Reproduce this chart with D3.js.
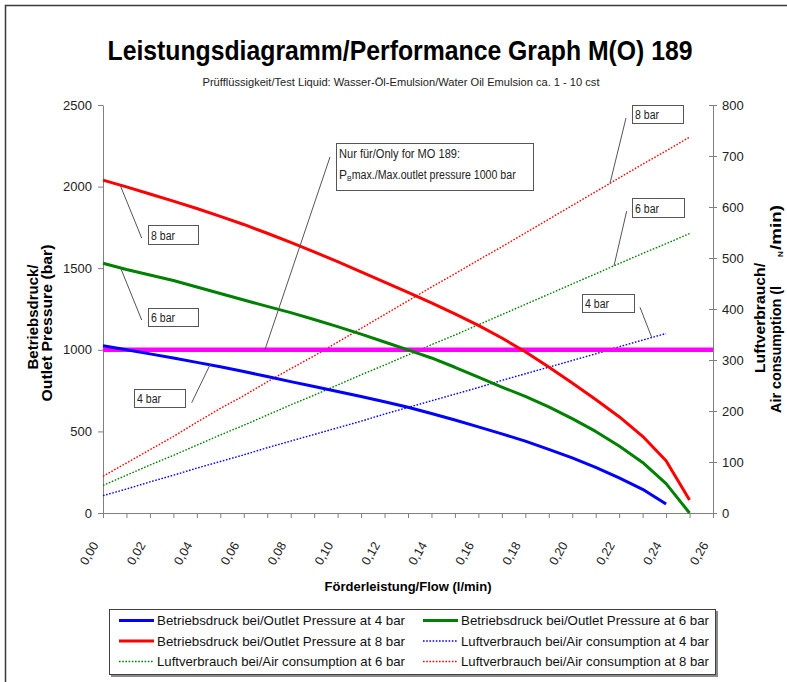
<!DOCTYPE html>
<html><head><meta charset="utf-8">
<script src="https://cdn.jsdelivr.net/npm/d3@7"></script>
<style>body{margin:0;background:#fff}svg{display:block}</style>
</head><body>
<svg id="c" width="787" height="682"></svg>
<script>
// ---------- DATA ----------
const flow = [0.00,0.01,0.02,0.03,0.04,0.05,0.06,0.07,0.08,0.09,0.10,0.11,0.12,0.13,0.14,0.15,0.16,0.17,0.18,0.19,0.20,0.21,0.22,0.23,0.24,0.25];
const pressure4bar = [1025,1000,975,950,923,896,867,836,805,775,745,714,682,648,610,570,528,485,440,390,338,280,215,145,55];
const pressure6bar = [1530,1492,1458,1425,1385,1345,1305,1266,1228,1186,1142,1096,1048,1000,950,893,832,772,714,650,578,500,410,310,180,0];
const pressure8bar = [2040,1998,1955,1911,1866,1818,1768,1714,1658,1600,1540,1478,1415,1352,1288,1220,1150,1072,988,895,797,695,590,470,320,80];
const air4bar = [34,47,61,74,88,101,114,128,141,154,167,180,194,207,220,233,246,260,273,286,299,312,326,339,352];
const air6bar = [54,74,94,113,133,153,172,192,212,231,251,271,290,310,330,349,369,389,409,429,449,469,489,509,528,548];
const air8bar = [72,98,124,150,178,205,230,257,283,308,335,362,389,416,443,469,496,522,549,576,603,630,657,684,710,737];
const maxOutletPressure = 1000;

const leftTicks = [0,500,1000,1500,2000,2500];
const rightTicks = [0,100,200,300,400,500,600,700,800];
const xLabelTicks = [0.00,0.02,0.04,0.06,0.08,0.10,0.12,0.14,0.16,0.18,0.20,0.22,0.24,0.26];
const xMinorTicks = [0.00,0.01,0.02,0.03,0.04,0.05,0.06,0.07,0.08,0.09,0.10,0.11,0.12,0.13,0.14,0.15,0.16,0.17,0.18,0.19,0.20,0.21,0.22,0.23,0.24,0.25,0.26];

const title = "Leistungsdiagramm/Performance Graph M(O) 189";
const subtitle = "Prüfflüssigkeit/Test Liquid: Wasser-Öl-Emulsion/Water Oil Emulsion ca. 1 - 10 cst";
const xTitle = "Förderleistung/Flow (l/min)";
const leftTitle = ["Betriebsdruck/", "Outlet Pressure (bar)"];
const rightTitle1 = "Luftverbrauch/";
const legendLabels = [
  "Betriebsdruck bei/Outlet Pressure at 4 bar",
  "Betriebsdruck bei/Outlet Pressure at 6 bar",
  "Betriebsdruck bei/Outlet Pressure at 8 bar",
  "Luftverbrauch bei/Air consumption at 4 bar",
  "Luftverbrauch bei/Air consumption at 6 bar",
  "Luftverbrauch bei/Air consumption at 8 bar"];

// ---------- SETUP ----------
const FONT = "'Liberation Sans', Arial, Helvetica, sans-serif";
const svg = d3.select("#c").style("font-family", FONT);
const fit = (s, w) => s.attr("textLength", w).attr("lengthAdjust", "spacingAndGlyphs");

const x = d3.scaleLinear().domain([0, 0.26]).range([103, 713]);
const yL = d3.scaleLinear().domain([0, 2500]).range([513, 105]);
const yR = d3.scaleLinear().domain([0, 800]).range([513, 105]);

// outer frame
svg.append("rect").attr("x", 5.5).attr("y", 5.5).attr("width", 820).attr("height", 720)
  .attr("fill", "none").attr("stroke", "#3a3a3a").attr("stroke-width", 1.5);

// titles
fit(svg.append("text").attr("x", 400).attr("y", 60).attr("text-anchor", "middle")
  .attr("font-size", 28).attr("font-weight", "bold").attr("fill", "#000").text(title), 585);
fit(svg.append("text").attr("x", 401).attr("y", 86).attr("text-anchor", "middle")
  .attr("font-size", 11.5).attr("fill", "#222").text(subtitle), 397);

// ---------- AXES ----------
const axisColor = "#808080";
const gL = svg.append("g").attr("transform", `translate(${x(0)},0)`)
  .call(d3.axisLeft(yL).tickValues(leftTicks).tickFormat(d3.format("d")).tickSize(5).tickSizeOuter(0).tickPadding(6));
const gR = svg.append("g").attr("transform", `translate(${x(0.26)},0)`)
  .call(d3.axisRight(yR).tickValues(rightTicks).tickFormat(d3.format("d")).tickSize(4).tickSizeOuter(0).tickPadding(5));
gR.selectAll(".tick line").attr("x1", -4);
const gB = svg.append("g").attr("transform", `translate(0,${yL(0)})`)
  .call(d3.axisBottom(x).tickValues(xMinorTicks).tickSize(5).tickSizeOuter(0).tickFormat(""));
[gL, gR, gB].forEach(g => {
  g.select(".domain").attr("stroke", axisColor);
  g.selectAll(".tick line").attr("stroke", axisColor);
  g.selectAll(".tick text").attr("font-size", 13).attr("fill", "#222").attr("font-family", FONT);
});
// rotated x labels
const fmt = d3.format(".2f");
svg.append("g").selectAll("text").data(xLabelTicks).join("text")
  .attr("transform", d => `translate(${x(d) - 4},545) rotate(-60)`)
  .attr("text-anchor", "end").attr("font-size", 12.5).attr("fill", "#222")
  .text(d => fmt(d).replace(".", ","));

// axis titles
fit(svg.append("text").attr("x", 408).attr("y", 591).attr("text-anchor", "middle")
  .attr("font-size", 13).attr("font-weight", "bold").text(xTitle), 167);
fit(svg.append("text").attr("transform", "translate(38,317) rotate(-90)").attr("text-anchor", "middle")
  .attr("font-size", 14).attr("font-weight", "bold").text(leftTitle[0]), 105);
fit(svg.append("text").attr("transform", "translate(52,323) rotate(-90)").attr("text-anchor", "middle")
  .attr("font-size", 14).attr("font-weight", "bold").text(leftTitle[1]), 157);
fit(svg.append("text").attr("transform", "translate(765,318) rotate(-90)").attr("text-anchor", "middle")
  .attr("font-size", 14).attr("font-weight", "bold").text(rightTitle1), 110);
const rt = svg.append("text").attr("transform", "translate(781,413) rotate(-90)")
  .attr("font-size", 14).attr("font-weight", "bold");
fit(rt.append("tspan").attr("x", 0).text("Air consumption (l"), 127);
rt.append("tspan").attr("x", 156).attr("dy", 2).attr("font-size", 8).text("N");
fit(rt.append("tspan").attr("x", 163).attr("dy", -2).text("/min)"), 45);

// ---------- DATA MARKS ----------
const pressureSeries = [
  {v: pressure4bar, c: "#0000ff"},
  {v: pressure6bar, c: "#008000"},
  {v: pressure8bar, c: "#ff0000"}];
const airSeries = [
  {v: air4bar, c: "#0000ff"},
  {v: air6bar, c: "#008000"},
  {v: air8bar, c: "#ff0000"}];

const lineL = d3.line().x((d, i) => x(flow[i])).y(d => yL(d));
const lineR = d3.line().x((d, i) => x(flow[i])).y(d => yR(d));

svg.append("g").selectAll("path").data(airSeries).join("path")
  .attr("d", s => lineR(s.v)).attr("fill", "none").attr("stroke", s => s.c)
  .attr("stroke-width", 1.4).attr("stroke-dasharray", "1.6,1.6");

svg.append("line").attr("x1", x(0)).attr("x2", x(0.26))
  .attr("y1", yL(maxOutletPressure)).attr("y2", yL(maxOutletPressure))
  .attr("stroke", "#ff00ff").attr("stroke-width", 4.5);

svg.append("g").selectAll("path").data(pressureSeries).join("path")
  .attr("d", s => lineL(s.v)).attr("fill", "none").attr("stroke", s => s.c)
  .attr("stroke-width", 3).attr("stroke-linejoin", "round");

// ---------- ANNOTATIONS ----------
const interp = (arr, f) => {
  const i = Math.min(Math.floor(f / 0.01), arr.length - 2);
  const t = (f - flow[i]) / (flow[i + 1] - flow[i]);
  return arr[i] + t * (arr[i + 1] - arr[i]);
};
const ann = svg.append("g");
function box(bx, by, w, h, label, tx, ty, px, py) {
  ann.append("line").attr("x1", tx).attr("y1", ty).attr("x2", px).attr("y2", py)
    .attr("stroke", "#555").attr("stroke-width", 1);
  ann.append("rect").attr("x", bx + 0.5).attr("y", by + 0.5).attr("width", w).attr("height", h)
    .attr("fill", "#fff").attr("stroke", "#555").attr("stroke-width", 1);
  fit(ann.append("text").attr("x", bx + 3).attr("y", by + h - 4).attr("font-size", 12.5)
    .attr("fill", "#222").text(label), 24);
}
box(148, 225, 50, 19, "8 bar", 141.7, 238, x(0.0073), yL(interp(pressure8bar, 0.0073)));
box(148, 308, 50, 18, "6 bar", 141.7, 320, x(0.0075), yL(interp(pressure6bar, 0.0075)));
box(134, 389, 51, 18, "4 bar", 191.7, 402.7, x(0.0456), yL(interp(pressure4bar, 0.0456)));
box(632, 105, 51, 18, "8 bar", 626, 118, x(0.2161), yR(interp(air8bar, 0.2161)));
box(632, 198, 52, 19, "6 bar", 626.7, 211, x(0.2178), yR(interp(air6bar, 0.2178)));
box(582, 294, 52, 18, "4 bar", 640, 307.3, x(0.2339), yR(interp(air4bar, 0.2339)));

// big note
ann.append("line").attr("x1", 330).attr("y1", 157).attr("x2", x(0.069)).attr("y2", yL(maxOutletPressure))
  .attr("stroke", "#555").attr("stroke-width", 1);
ann.append("rect").attr("x", 336.5).attr("y", 143.5).attr("width", 197).attr("height", 47)
  .attr("fill", "#fff").attr("stroke", "#555").attr("stroke-width", 1);
fit(ann.append("text").attr("x", 339).attr("y", 158).attr("font-size", 12).attr("fill", "#222")
  .text("Nur für/Only for MO 189:"), 121);
const n2 = ann.append("text").attr("x", 339).attr("y", 179).attr("font-size", 12).attr("fill", "#222");
n2.append("tspan").text("P");
n2.append("tspan").attr("font-size", 7).attr("dy", 2).text("B");
fit(n2.append("tspan").attr("dy", -2).text("max./Max.outlet pressure 1000 bar"), 164);

// ---------- LEGEND ----------
const lg = svg.append("g");
lg.append("rect").attr("x", 111).attr("y", 611).attr("width", 607).attr("height", 66).attr("fill", "#8a8a8a");
lg.append("rect").attr("x", 109.5).attr("y", 609.5).attr("width", 606).attr("height", 65)
  .attr("fill", "#fff").attr("stroke", "#404040").attr("stroke-width", 1);
const legendItems = [
  {c: "#0000ff", dash: false}, {c: "#008000", dash: false},
  {c: "#ff0000", dash: false}, {c: "#0000ff", dash: true},
  {c: "#008000", dash: true}, {c: "#ff0000", dash: true}];
const colX = [119, 423], rowY = [620.5, 641, 661.5];
legendItems.forEach((it, i) => {
  const cx = colX[i % 2], cy = rowY[Math.floor(i / 2)];
  lg.append("line").attr("x1", cx).attr("x2", cx + 35).attr("y1", cy).attr("y2", cy)
    .attr("stroke", it.c).attr("stroke-width", it.dash ? 1.4 : 3)
    .attr("stroke-dasharray", it.dash ? "1.6,1.6" : null);
  fit(lg.append("text").attr("x", cx + 38).attr("y", cy + 4.5).attr("font-size", 13)
    .attr("fill", "#111").text(legendLabels[i]), 248);
});
</script>
</body></html>
